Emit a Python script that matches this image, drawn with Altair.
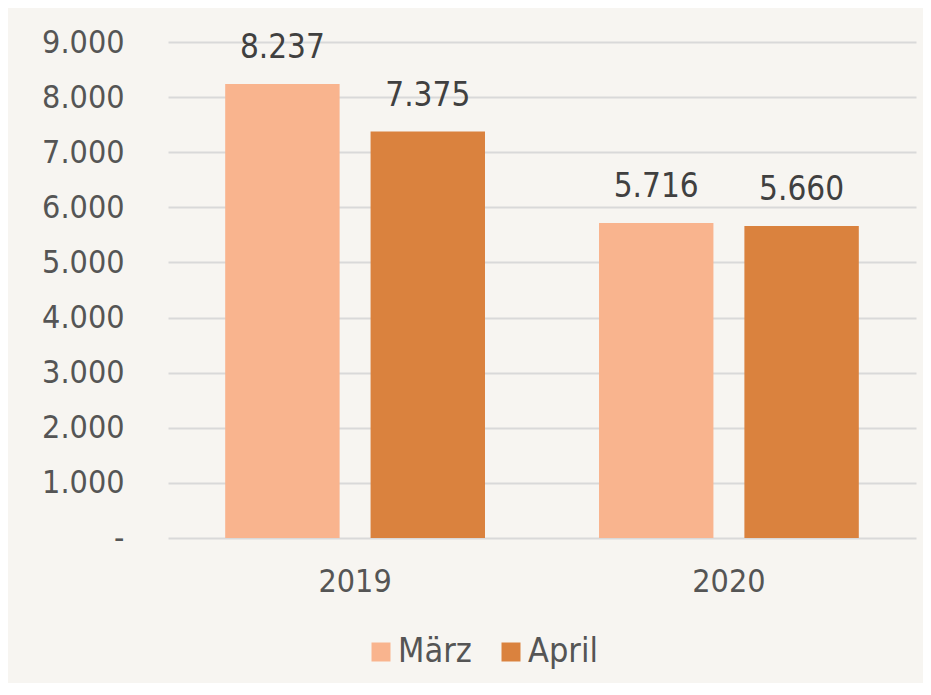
import altair as alt
import pandas as pd

years = ["2019", "2019", "2020", "2020"]
months = ["März", "April", "März", "April"]
values = [8237, 7375, 5716, 5660]
month_order = ["März", "April"]
colors = ["#F9B48E", "#DA823E"]

df = pd.DataFrame({"year": years, "month": months, "value": values})

FONT = "DejaVu Sans Condensed"
FS = 32

base = alt.Chart(df).encode(
    x=alt.X("year:N", title=None,
            scale=alt.Scale(paddingInner=0.305, paddingOuter=0.153),
            axis=alt.Axis(labelAngle=0, labelPadding=28, domain=False, ticks=False,
                          labelFontSize=FS, labelFont=FONT, labelColor="#555555")),
    xOffset=alt.XOffset("month:N", sort=month_order, scale=alt.Scale(paddingInner=0.213)),
)

bars = base.mark_bar().encode(
    y=alt.Y("value:Q", title=None,
            scale=alt.Scale(domain=[0, 9000]),
            axis=alt.Axis(values=list(range(0, 10000, 1000)), domain=False, ticks=False,
                          labelPadding=44, labelFontSize=FS, labelFont=FONT,
                          labelColor="#555555", gridColor="#D9D9D9", gridWidth=2,
                          labelExpr="datum.value == 0 ? '-' : replace(format(datum.value, ',.0f'), ',', '.')")),
    color=alt.Color("month:N", sort=month_order,
                    scale=alt.Scale(domain=month_order, range=colors),
                    legend=alt.Legend(title=None, orient="none", legendX=196, legendY=593,
                                      direction="horizontal", symbolType="square",
                                      symbolSize=361, symbolStrokeWidth=0,
                                      labelFontSize=34, labelFont=FONT, labelColor="#555555",
                                      labelOffset=0, columnPadding=22)),
)

labels = base.transform_calculate(
    lbl="replace(format(datum.value, ',.0f'), ',', '.')"
).mark_text(baseline="bottom", dy=-19, fontSize=33, font=FONT, color="#404040").encode(
    y="value:Q",
    text="lbl:N",
)

chart = alt.layer(bars, labels).properties(
    width=748, height=496,
    background="#F7F5F1",
    autosize=alt.AutoSizeParams(type="none"),
    padding={"left": 160, "top": 34, "right": 7, "bottom": 145},
).configure_view(stroke=None)

chart.save("out.html", embed_options={"renderer": "svg", "actions": False})
